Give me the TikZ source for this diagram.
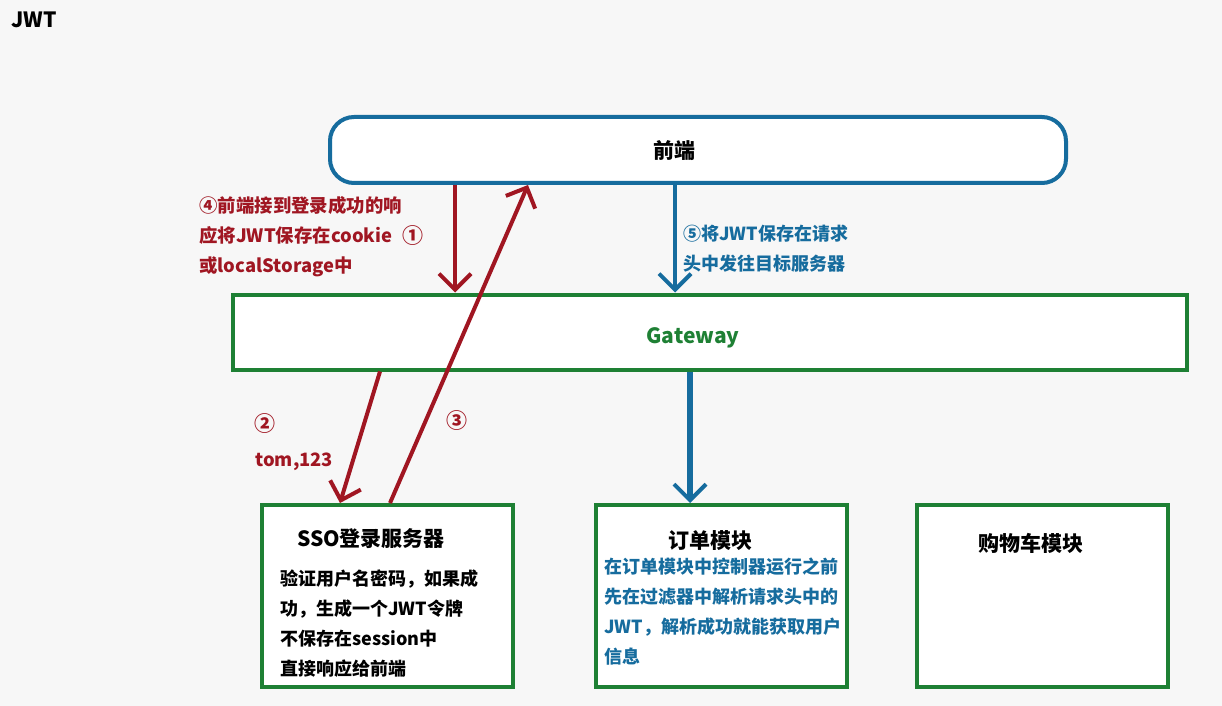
\documentclass[tikz,border=0pt]{standalone}
\usepackage{fontspec}
\setmainfont{Noto Sans CJK SC}
\usetikzlibrary{arrows.meta}
\definecolor{jred}{RGB}{160,22,34}
\definecolor{jblue}{RGB}{22,108,158}
\definecolor{jgreen}{RGB}{30,128,52}
\definecolor{bg}{RGB}{247,247,247}
\begin{document}
\begin{tikzpicture}[x=0.5pt,y=-0.5pt,
  box/.style={draw=jgreen,line width=2pt,fill=white,inner sep=0pt},
  redarr/.style={draw=jred,line width=2pt,-{Straight Barb[length=8pt,width=16pt,line width=2pt]}},
  bluearr/.style={draw=jblue,line width=2pt,-{Straight Barb[length=8pt,width=16pt,line width=2pt]}},
  lbl/.style={font=\bfseries\fontsize{9pt}{15pt}\selectfont,align=left,anchor=west,inner sep=0pt},
  rlbl/.style={lbl,font=\bfseries\fontsize{9.2pt}{15pt}\selectfont},
  circ/.style={lbl,font=\bfseries\fontsize{10.5pt}{12pt}\selectfont},
  ttl/.style={font=\bfseries\fontsize{10.5pt}{12pt}\selectfont,inner sep=0pt}]
\fill[bg] (0,0) rectangle (1222,706);
\useasboundingbox (0,0) rectangle (1222,706);
\node[ttl,anchor=west,font=\bfseries\fontsize{10.5pt}{12pt}\selectfont] (jwt) at (11,20) {JWT};
% frontend
\node[draw=jblue,line width=2pt,fill=white,rounded corners=12pt,minimum width=368pt,minimum height=33pt,inner sep=0pt] (fe) at (698,150) {};
\node[ttl] (fet) at (674,151) {前端};
% gateway
\node[box,minimum width=477pt,minimum height=37.5pt] (gw) at (710,332) {};
\node[ttl,text=jgreen] (gwt) at (693,338) {Gateway};
% modules
\node[box,minimum width=125.5pt,minimum height=91pt] (sso) at (387.5,596) {};
\node[box,minimum width=125.5pt,minimum height=91pt] (ord) at (721.5,596) {};
\node[box,minimum width=125.5pt,minimum height=91pt] (cart) at (1042.5,596) {};
\node[ttl] (ssot) at (371,539) {SSO登录服务器};
\node[lbl] (ssob) at (280,624) {验证用户名密码，如果成\\功，生成一个JWT令牌\\不保存在session中\\直接响应给前端};
\node[ttl] (ordt) at (710,541) {订单模块};
\node[lbl,text=jblue] (ordb) at (604,612) {在订单模块中控制器运行之前\\先在过滤器中解析请求头中的\\JWT，解析成功就能获取用户\\信息};
\node[ttl] (cartt) at (1031,543) {购物车模块};
% arrows
\draw[redarr] (fe.south -| 455,0) -- (gw.north -| 455,0);
\draw[redarr] (gw.south -| 380,0) -- (sso.north -| 340,0);
\draw[redarr] (sso.north -| 390,0) -- (fe.south -| 528,0);
\draw[bluearr] (fe.south -| 675,0) -- (gw.north -| 675,0);
\draw[bluearr,line width=2.6pt] (gw.south -| 690,0) -- (ord.north -| 690,0);
% labels
\node[rlbl,text=jred] (l4) at (199,237) {④前端接到登录成功的响\\应将JWT保存在cookie\\或localStorage中};
\node[circ,text=jred] (l1) at (402,236) {①};
\node[lbl,text=jblue] (l5) at (683,249) {⑤将JWT保存在请求\\头中发往目标服务器};
\node[circ,text=jred] (l2) at (254,424) {②};
\node[rlbl,text=jred] (l2b) at (255,462) {tom,123};
\node[circ,text=jred] (l3) at (446,421) {③};
\end{tikzpicture}
\end{document}
